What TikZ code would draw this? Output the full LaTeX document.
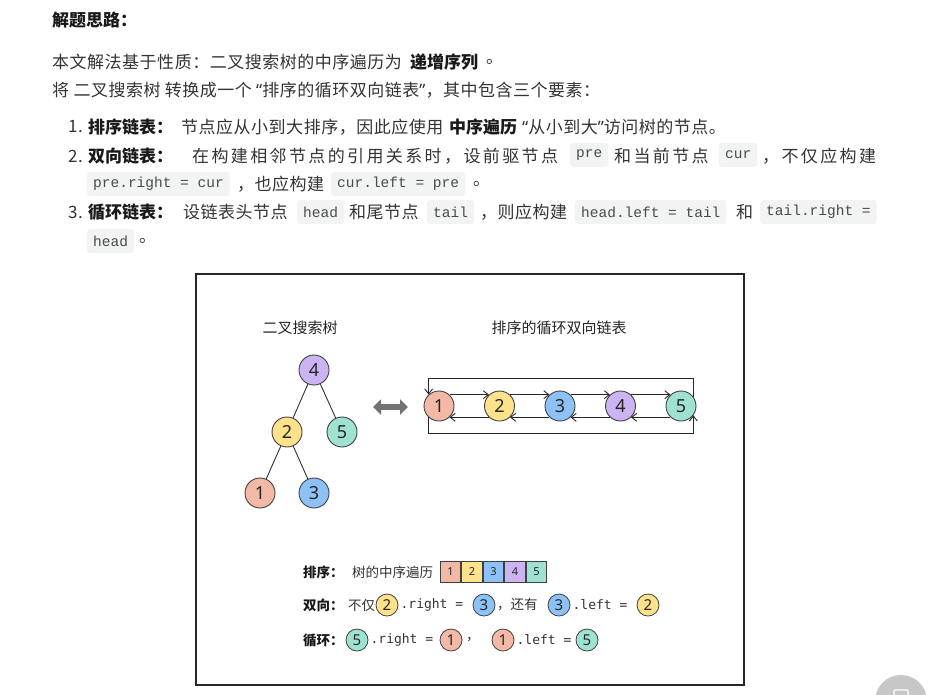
\documentclass[tikz,border=0pt]{standalone}
\usepackage{fontspec}
\setmainfont{Noto Sans CJK SC}
\setmonofont{Liberation Mono}
\newfontfamily\numfont{Noto Sans}
\newfontfamily\legmono{DejaVu Sans Mono}
\usetikzlibrary{arrows.meta,positioning}

\newcommand{\lquo}{{\numfont “}}
\newcommand{\rquo}{{\numfont ”}}

\definecolor{txtgray}{HTML}{333333}
\definecolor{codebg}{HTML}{F2F3F3}
\definecolor{codefg}{HTML}{4A4A4A}
\definecolor{cone}{HTML}{F4B8A7}
\definecolor{ctwo}{HTML}{FDE18B}
\definecolor{cthree}{HTML}{8DC2F6}
\definecolor{cfour}{HTML}{CCB3F2}
\definecolor{cfive}{HTML}{A0E2D2}

\tikzset{
  txt/.style={anchor=west, inner sep=0pt, text=txtgray,
    font=\fontsize{17}{20}\selectfont\addfontfeature{LetterSpace=3}},
  txtw/.style={txt, font=\fontsize{17}{20}\selectfont\addfontfeature{LetterSpace=14}},
  bld/.style={txt, text=black!90, font=\fontsize{17}{20}\selectfont\bfseries},
  codebox/.style={anchor=west, fill=codebg, rounded corners=3pt, inner xsep=6pt,
    inner ysep=0pt, minimum height=24pt, text=codefg, font=\fontsize{14.5}{16}\ttfamily},
  title/.style={inner sep=0pt, text=black!85, font=\fontsize{15}{18}\selectfont},
  vnode/.style={circle, draw=black!75, line width=0.9pt, minimum size=30pt,
    inner sep=0pt, text=black!85, font=\fontsize{18}{18}\numfont},
  mini/.style={circle, draw=black!75, line width=0.8pt, minimum size=22pt,
    inner sep=0pt, text=black!85, font=\fontsize{15}{15}\numfont},
  sqbox/.style={draw=black!75, line width=0.7pt, minimum size=20.8pt,
    inner sep=0pt, text=black!85, font=\fontsize{11}{11}\numfont},
  branch/.style={draw=black!80, line width=0.9pt},
  link/.style={-{Straight Barb[length=5pt,width=8pt]}, draw=black!85, line width=0.9pt},
  swap/.style={{Triangle[length=8pt,width=15pt]}-{Triangle[length=8pt,width=15pt]},
    draw=black!55, line width=5.5pt},
  figbox/.style={draw=black!85, line width=1.3pt},
  leg/.style={anchor=west, inner sep=0pt, text=txtgray, font=\fontsize{13.5}{16}\selectfont},
  legb/.style={leg, text=black!90, font=\fontsize{13.5}{16}\selectfont\bfseries},
  legc/.style={anchor=west, inner sep=0pt, text=txtgray, font=\fontsize{13}{16}\legmono},
}

\begin{document}
\begin{tikzpicture}[x=1pt, y=-1pt]
\useasboundingbox (0,0) rectangle (941,694);

% text above the figure
\node[bld] (hd) at (52,20) {解题思路：};
\node[txt] (p1a) at (52,62) {本文解法基于性质：二叉搜索树的中序遍历为};
\node[bld] (p1b) at (410,62) {递增序列};
\node[txt] (p1c) at (486,62) {。};
\node[txt] (p2) at (52,90) {将 二叉搜索树 转换成一个 \lquo 排序的循环双向链表\rquo，其中包含三个要素：};

\node[txt] (n1) at (68,127) {1.};
\node[bld] (i1a) at (88,127) {排序链表：};
\node[txt] (i1b) at (181,127) {节点应从小到大排序，因此应使用};
\node[bld] (i1c) at (449,127) {中序遍历};
\node[txt] (i1d) at (522,127) {\lquo 从小到大\rquo 访问树的节点。};

\node[txt] (n2) at (68,156) {2.};
\node[bld] (i2a) at (88,156) {双向链表：};
\node[txtw] (i2b) at (192,156) {在构建相邻节点的引用关系时，设前驱节点};
\node[codebox] (c1) at (570,155) {pre};
\node[txtw] (i2c) at (614,156) {和当前节点};
\node[codebox] (c2) at (719,155) {cur};
\node[txtw] (i2d) at (762,156) {，不仅应构建};
\node[codebox] (c3) at (87,184) {pre.right = cur};
\node[txt] (i2e) at (237,184) {，也应构建};
\node[codebox] (c4) at (331,184) {cur.left = pre};
\node[txt] (i2f) at (473,184) {。};

\node[txt] (n3) at (68,212) {3.};
\node[bld] (i3a) at (88,212) {循环链表：};
\node[txt] (i3b) at (183,212) {设链表头节点};
\node[codebox] (c5) at (297,212) {head};
\node[txt] (i3c) at (349,212) {和尾节点};
\node[codebox] (c6) at (427,212) {tail};
\node[txt] (i3d) at (480,212) {，则应构建};
\node[codebox] (c7) at (575,212) {head.left = tail};
\node[txt] (i3e) at (736,212) {和};
\node[codebox] (c8) at (760,212) {tail.right =};
\node[codebox] (c9) at (87,241) {head};
\node[txt] (i3f) at (139,241) {。};

% the figure
\draw[figbox] (196,274) rectangle (744,685);
\node[title] (ttree) at (300,328) {二叉搜索树};
\node[title] (tlist) at (559,328) {排序的循环双向链表};

% tree
\node[vnode, fill=cfour] (t4) at (314,370) {4};
\node[vnode, fill=ctwo] (t2) at (287,432) {2};
\node[vnode, fill=cfive] (t5) at (342,432) {5};
\node[vnode, fill=cone] (t1) at (260,493) {1};
\node[vnode, fill=cthree] (t3) at (314,493) {3};
\draw[branch] (t4) -- (t2);
\draw[branch] (t4) -- (t5);
\draw[branch] (t2) -- (t1);
\draw[branch] (t2) -- (t3);

\coordinate (swapL) at (373,407);
\coordinate (swapR) at (408,407);
\draw[swap] (swapL) -- (swapR);

% list
\begin{scope}[node distance=60.5pt]
  \node[vnode, fill=cone] (l1) at (439,406) {1};
  \node[vnode, fill=ctwo] (l2) [right of=l1] {2};
  \node[vnode, fill=cthree] (l3) [right of=l2] {3};
  \node[vnode, fill=cfour] (l4) [right of=l3] {4};
  \node[vnode, fill=cfive] (l5) [right of=l4] {5};
\end{scope}
\foreach \a/\b in {l1/l2, l2/l3, l3/l4, l4/l5} {
  \draw[link] (\a.47) -- (\b.133);
  \draw[link] (\b.227) -- (\a.313);
}
\coordinate (loopT) at (560,378);
\coordinate (loopB) at (560,433);
\draw[link] (l5.37) -- (l5.37 |- loopT) -| (l1.132);
\draw[link] (l1.228) -- (l1.228 |- loopB) -| (l5.323);

% legend
\node[legb] (r1a) at (303,572) {排序：};
\node[leg] (r1b) at (352,572) {树的中序遍历};
\node[sqbox, fill=cone] (b1) at (450.4,571.5) {1};
\node[sqbox, fill=ctwo, right=0pt of b1] (b2) {2};
\node[sqbox, fill=cthree, right=0pt of b2] (b3) {3};
\node[sqbox, fill=cfour, right=0pt of b3] (b4) {4};
\node[sqbox, fill=cfive, right=0pt of b4] (b5) {5};

\node[legb] (r2a) at (303,605) {双向：};
\node[leg] (r2b) at (348,605) {不仅};
\node[mini, fill=ctwo] (r2c) at (387,605) {2};
\node[legc, right=2pt of r2c] (r2d) {.right =};
\node[mini, fill=cthree] (r2e) at (484,605) {3};
\node[leg] (r2f) at (497,605) {，还有};
\node[mini, fill=cthree] (r2g) at (559,605) {3};
\node[legc, right=2pt of r2g] (r2h) {.left =};
\node[mini, fill=ctwo] (r2i) at (648,605) {2};

\node[legb] (r3a) at (303,640) {循环：};
\node[mini, fill=cfive] (r3b) at (357,640) {5};
\node[legc, right=2pt of r3b] (r3c) {.right =};
\node[mini, fill=cone] (r3d) at (451,640) {1};
\node[leg] (r3e) at (466,640) {，};
\node[mini, fill=cone] (r3f) at (503,640) {1};
\node[legc, right=2pt of r3f] (r3g) {.left =};
\node[mini, fill=cfive] (r3h) at (587,640) {5};

% page button
\fill[black!22] (901,701) circle (26);
\draw[white, line width=1.2pt, rounded corners=1pt] (894,690) rectangle (908,698);
\end{tikzpicture}
\end{document}
